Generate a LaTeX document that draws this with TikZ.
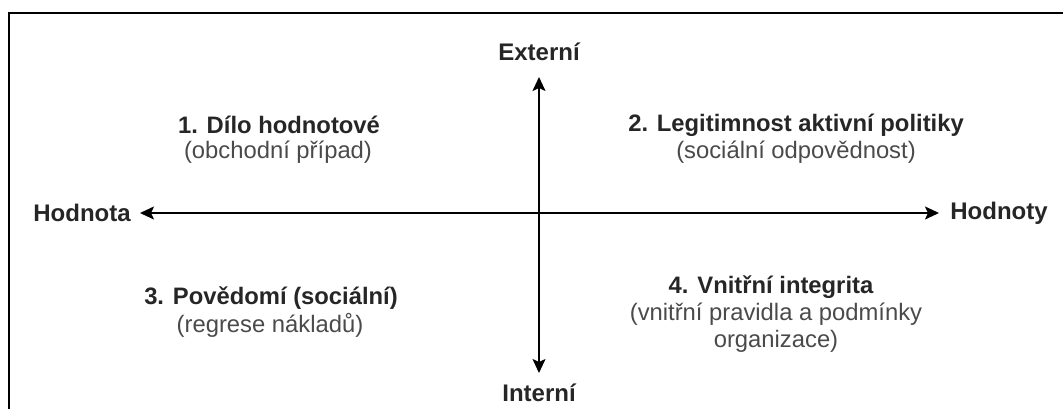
\documentclass[tikz,border=0pt]{standalone}
\usepackage{fontspec}
\setmainfont{Liberation Sans}
\usetikzlibrary{arrows.meta}
\definecolor{titlec}{HTML}{262626}
\definecolor{subc}{HTML}{4A4A4A}
\begin{document}
\begin{tikzpicture}[x=1pt,y=-1pt,
  title/.style={font=\fontsize{23.8}{27}\selectfont\bfseries, text=titlec, align=center, inner sep=0pt},
  sub/.style={font=\fontsize{23.8}{27}\selectfont, text=subc, align=center, inner sep=0pt},
  axislabel/.style={font=\fontsize{24}{27}\selectfont\bfseries, text=titlec, inner sep=0pt},
  axis/.style={line width=1.8pt, black, {Stealth[length=14pt,width=13pt,inset=3pt]}-{Stealth[length=14pt,width=13pt,inset=3pt]}}]
\useasboundingbox (0,0) rectangle (1063,408);
\begin{scope}
\clip (0,0) rectangle (1063,408);
\draw[line width=2pt, black] (9,13) rectangle (1080,430);
\end{scope}
% axis labels
\node[axislabel] (ext) at (539,52) {Externí};
\node[axislabel] (int) at (539,393) {Interní};
\node[axislabel] (hl) at (82,213) {Hodnota};
\node[axislabel] (hr) at (999,213) {Hodnoty};
% axis end points
\coordinate (top) at (539,77);
\coordinate (bot) at (539,373);
\coordinate (lft) at (140,213);
\coordinate (rgt) at (939,213);
\draw[axis] (bot) -- (top);
\draw[axis] (lft) -- (rgt);
% quadrant texts
\node[title] (q1) at (279,125) {1. Dílo hodnotové};
\node[sub] (q1s) at (278,152) {(obchodní případ)};
\node[title] (q2) at (796,125) {2. Legitimnost aktivní politiky};
\node[sub] (q2s) at (796,152) {(sociální odpovědnost)};
\node[title] (q3) at (271,298) {3. Povědomí (sociální)};
\node[sub] (q3s) at (270,325) {(regrese nákladů)};
\node[title] (q4) at (771,287) {4. Vnitřní integrita};
\node[sub] (q4s) at (776,328) {(vnitřní pravidla a podmínky\\organizace)};
\end{tikzpicture}
\end{document}
